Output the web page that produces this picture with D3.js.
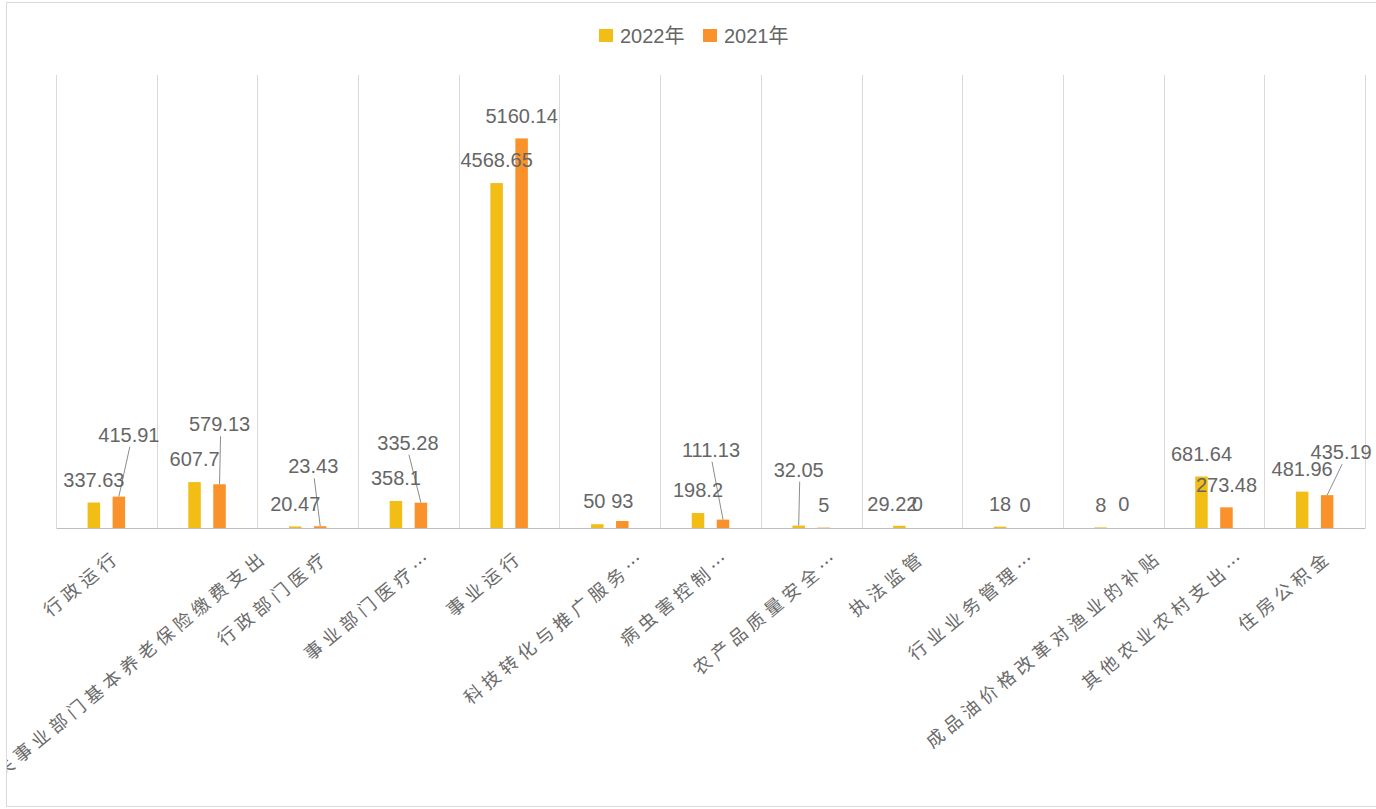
<!DOCTYPE html>
<html>
<head>
<meta charset="utf-8">
<script src="https://cdn.jsdelivr.net/npm/d3@7"></script>
<style>
  html, body { margin: 0; padding: 0; background: #fff; }
  svg { display: block; }
</style>
</head>
<body>
<svg id="chart" width="1376" height="809"></svg>
<script>
// data
const categories = [
    "行政运行", "机关事业部门基本养老保险缴费支出", "行政部门医疗", "事业部门医疗…",
    "事业运行", "科技转化与推广服务…", "病虫害控制…", "农产品质量安全…",
    "执法监管", "行业业务管理…", "成品油价格改革对渔业的补贴", "其他农业农村支出…", "住房公积金"
];
const seriesNames = ["2022年", "2021年"];
const values2022 = [337.63, 607.7, 20.47, 358.1, 4568.65, 50, 198.2, 32.05, 29.22, 18, 8, 681.64, 481.96];
const values2021 = [415.91, 579.13, 23.43, 335.28, 5160.14, 93, 111.13, 5, 0, 0, 0, 273.48, 435.19];

// label nudges (layout only): [dx, dy, leader] from bar top centre, null = default spot
const nudge2022 = [null, null, null, null, null, [-3, -23], null, [0, -56, true], [-7, -22], null, null, null, null];
const nudge2021 = [[10, -62, true], [0, -60, true], [-7, -60, true], [-13, -60, true], null, [0, -20], [-12, -70, true],
    null, [-7, -24], null, [-2, -24], null, [14, -43, true]];

const colors = ["#F2BD15", "#F9922A"];
const W = 1376, H = 809;
const svg = d3.select("#chart");

// chart frame
svg.append("defs").append("clipPath").attr("id", "frame")
    .append("rect").attr("x", 7).attr("y", 3).attr("width", W - 7).attr("height", 803);
svg.append("rect")
    .attr("x", 6.5).attr("y", 2.5).attr("width", W).attr("height", 804)
    .attr("fill", "#fff").attr("stroke", "#d9d9d9");

const root = svg.append("g").attr("clip-path", "url(#frame)");

// scales
const x = d3.scaleBand().domain(categories).range([56, 1365]);
const x1 = d3.scaleBand().domain(seriesNames).range([-25, 25]).paddingInner(0.5).paddingOuter(0.25);
const y = d3.scaleLinear().domain([0, 6000]).range([528, 75]);

// vertical gridlines on category boundaries
const bounds = d3.range(categories.length + 1).map(i => x.range()[0] + i * x.step());
root.append("g").selectAll("line").data(bounds).enter()
    .append("line")
    .attr("x1", d => Math.round(d) + 0.5).attr("x2", d => Math.round(d) + 0.5)
    .attr("y1", y(6000)).attr("y2", y(0))
    .attr("stroke", "#d9d9d9").attr("stroke-width", 1);

// bars
const rows = categories.map((c, i) => ({
    cat: c,
    cells: [
        { s: seriesNames[0], v: values2022[i], n: nudge2022[i], k: 0 },
        { s: seriesNames[1], v: values2021[i], n: nudge2021[i], k: 1 }
    ]
}));

const group = root.append("g").selectAll("g.cat").data(rows).enter()
    .append("g").attr("class", "cat")
    .attr("transform", d => "translate(" + (x(d.cat) + x.bandwidth() / 2) + ",0)");

group.selectAll("rect").data(d => d.cells).enter()
    .append("rect")
    .attr("x", d => x1(d.s))
    .attr("width", x1.bandwidth())
    .attr("y", d => y(d.v))
    .attr("height", d => y(0) - y(d.v))
    .attr("fill", d => colors[d.k]);

// axis line
const axis = root.append("g").attr("transform", "translate(0," + y(0) + ")")
    .call(d3.axisBottom(x).tickSize(0).tickFormat(""));
axis.select(".domain").attr("stroke", "#bfbfbf");

// leader lines then data labels
function labelPos(d) {
    const cx = x1(d.s) + x1.bandwidth() / 2;
    const n = d.n || [0, -23];
    return { bx: cx, by: y(d.v), lx: cx + n[0], ly: y(d.v) + n[1], leader: !!n[2] };
}

group.selectAll("line.leader").data(d => d.cells.filter(c => c.n && c.n[2])).enter()
    .append("line").attr("class", "leader")
    .attr("x1", d => labelPos(d).lx + 1)
    .attr("y1", d => labelPos(d).ly + 12)
    .attr("x2", d => labelPos(d).bx)
    .attr("y2", d => labelPos(d).by)
    .attr("stroke", "#8c8c8c").attr("stroke-width", 1);

group.selectAll("text.val").data(d => d.cells).enter()
    .append("text").attr("class", "val")
    .attr("x", d => labelPos(d).lx)
    .attr("y", d => labelPos(d).ly)
    .attr("dy", "0.36em")
    .attr("text-anchor", "middle")
    .style("font-family", "'Liberation Sans', Arial, sans-serif")
    .style("font-size", "20px")
    .attr("fill", "#666")
    .text(d => d.v);

// rotated category labels
root.append("g").selectAll("text.cat").data(categories).enter()
    .append("text").attr("class", "cat")
    .attr("transform", d => {
        const n = [...d].length;
        const ax = x(d) + x.bandwidth() / 2 + 10 + 3.9 * Math.max(0, n - 4);
        return "translate(" + ax + ",553) rotate(-39.4)";
    })
    .attr("text-anchor", "end")
    .attr("dominant-baseline", "central")
    .style("font-family", "'Noto Sans CJK SC', sans-serif")
    .style("font-size", "18px")
    .style("letter-spacing", "5px")
    .attr("fill", "#6b6b6b")
    .text(d => d);

// legend
const legend = svg.append("g").selectAll("g").data(seriesNames).enter()
    .append("g")
    .attr("transform", (d, i) => "translate(" + [599, 703][i] + ",29)");
legend.append("rect").attr("width", 14).attr("height", 13).attr("fill", (d, i) => colors[i]);
legend.append("text")
    .attr("x", 21).attr("y", 14)
    .style("font-family", "'Liberation Sans', Arial, 'Noto Sans CJK SC', sans-serif")
    .style("font-size", "20px")
    .attr("fill", "#666")
    .text(d => d);
</script>
</body>
</html>
